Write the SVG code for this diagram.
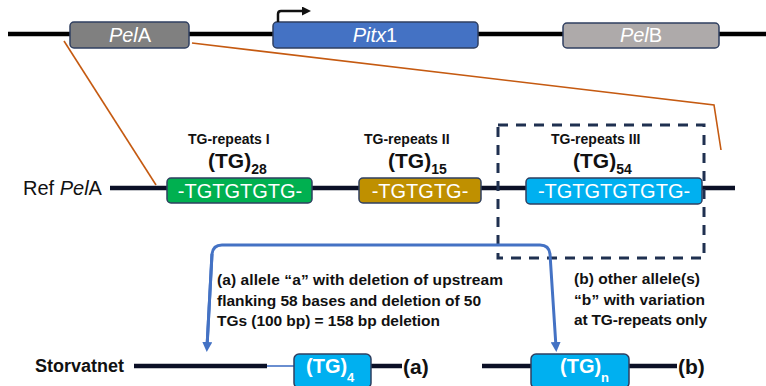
<svg xmlns="http://www.w3.org/2000/svg" width="766" height="386" viewBox="0 0 766 386">
<defs>
<style>
text{font-family:"Liberation Sans",Arial,sans-serif}
.box{stroke:#2F3F60;stroke-width:1.5}
.wt{fill:#fff}
.lbl{font-size:14px;font-weight:bold;fill:#111}
.tg{font-size:21px;font-weight:bold;fill:#111}
.para{font-size:15.5px;font-weight:bold;fill:#111}
.seq{font-size:20px;fill:#fff}
.dna{stroke:#0b1026;stroke-width:4.5;fill:none}
.orange{stroke:#C55A11;stroke-width:1.6;fill:none}
</style>
<marker id="blueArrow" markerWidth="10" markerHeight="10" refX="5" refY="5" orient="auto" markerUnits="userSpaceOnUse" viewBox="0 0 10 10">
<path d="M0,0 L10,5 L0,10 z" fill="#4472C4"/>
</marker>
<marker id="blackArrow" markerWidth="9" markerHeight="9" refX="4" refY="4.5" orient="auto" markerUnits="userSpaceOnUse" viewBox="0 0 9 9">
<path d="M0,0 L9,4.5 L0,9 z" fill="#111"/>
</marker>
</defs>

<!-- backbone lines -->
<g id="dna-lines">
<line x1="8" y1="34" x2="766" y2="34" stroke="#000" stroke-width="4.5"/>
<line class="dna" x1="110" y1="188" x2="735" y2="188"/>
<line class="dna" x1="134" y1="366" x2="267" y2="366" stroke-width="5.5"/>
<line x1="267" y1="366" x2="295" y2="366" stroke="#4472C4" stroke-width="1.6"/>
<line class="dna" x1="371" y1="366" x2="402" y2="366" stroke-width="5.5"/>
<line class="dna" x1="482" y1="366" x2="531" y2="366" stroke-width="5.5"/>
<line class="dna" x1="629" y1="366" x2="677" y2="366" stroke-width="5.5"/>
</g>

<!-- top genes -->
<g id="PelA">
<rect class="box" x="70" y="22" width="119" height="26" rx="4" fill="#808080"/>
<text x="130" y="42" text-anchor="middle" font-size="20" class="wt"><tspan font-style="italic">Pel</tspan>A</text>
</g>
<g id="Pitx1">
<rect class="box" x="273" y="22" width="205" height="26" rx="4" fill="#4472C4"/>
<text x="375" y="42" text-anchor="middle" font-size="20" class="wt"><tspan font-style="italic">Pitx</tspan>1</text>
</g>
<g id="PelB">
<rect class="box" x="563" y="23" width="156" height="25" rx="4" fill="#AEAAAA"/>
<text x="641" y="42" text-anchor="middle" font-size="20" class="wt"><tspan font-style="italic">Pel</tspan>B</text>
</g>

<!-- connectors -->
<g id="connectors">
<path d="M278,22 V14 Q278,11 281,11 H306" stroke="#111" stroke-width="2.5" fill="none" marker-end="url(#blackArrow)"/>
<line class="orange" x1="64" y1="41" x2="156" y2="185"/>
<polyline class="orange" points="192,43 714,105 721,150"/>
<rect x="498" y="125" width="206" height="133" fill="none" stroke="#1F3050" stroke-width="3" stroke-dasharray="10,8"/>
<path d="M207,347 L212,254 Q213,245 222,245 L540,245 Q549,245 550,254 L556,347" stroke="#4472C4" stroke-width="3" fill="none" marker-end="url(#blueArrow)"/>
<path d="M212,254 L207,347" stroke="#4472C4" stroke-width="3" fill="none" marker-end="url(#blueArrow)"/>
</g>

<!-- Ref PelA -->
<g id="ref-label">
<text x="23" y="195" font-size="20" fill="#111">Ref <tspan font-style="italic">Pel</tspan>A</text>
</g>

<g id="repeat1">
<text class="lbl" x="188" y="144">TG-repeats I</text>
<text class="tg" x="208" y="168">(TG)<tspan font-size="14" dy="6">28</tspan></text>
<rect class="box" x="167" y="178" width="145" height="25" rx="4" fill="#00B050"/>
<text class="seq" x="240" y="198" text-anchor="middle">-TGTGTGTG-</text>
</g>

<g id="repeat2">
<text class="lbl" x="364" y="144">TG-repeats II</text>
<text class="tg" x="388" y="168">(TG)<tspan font-size="14" dy="6">15</tspan></text>
<rect class="box" x="359" y="178" width="122" height="25" rx="4" fill="#BF9000"/>
<text class="seq" x="420" y="198" text-anchor="middle">-TGTGTG-</text>
</g>

<g id="repeat3">
<text class="lbl" x="551" y="144">TG-repeats III</text>
<text class="tg" x="573" y="168">(TG)<tspan font-size="14" dy="6">54</tspan></text>
<rect class="box" x="526" y="178" width="176" height="26" rx="4" fill="#00B0F0"/>
<text class="seq" x="614" y="198" text-anchor="middle">-TGTGTGTGTG-</text>
</g>

<g id="text-a">
<text class="para" x="217" y="285" textLength="286" lengthAdjust="spacing">(a) allele “a” with deletion of upstream</text>
<text class="para" x="217" y="306" textLength="264" lengthAdjust="spacing">flanking 58 bases and deletion of 50</text>
<text class="para" x="217" y="326" textLength="223" lengthAdjust="spacing">TGs (100 bp) = 158 bp deletion</text>
</g>

<g id="text-b">
<text class="para" x="574" y="284" textLength="126" lengthAdjust="spacing">(b) other allele(s)</text>
<text class="para" x="574" y="305" textLength="131" lengthAdjust="spacing">“b” with variation</text>
<text class="para" x="574" y="325" textLength="133" lengthAdjust="spacing">at TG-repeats only</text>
</g>

<g id="storvatnet">
<text x="35" y="372" font-size="18" font-weight="bold" fill="#111">Storvatnet</text>
</g>

<g id="alleleA">
<rect class="box" x="294" y="354" width="77" height="34" rx="5" fill="#00B0F0"/>
<text x="306" y="373" font-size="20" font-weight="bold" class="wt">(TG)<tspan font-size="13" dy="9">4</tspan></text>
<text x="403" y="374" font-size="21" font-weight="bold" fill="#111">(a)</text>
</g>

<g id="alleleB">
<rect class="box" x="531" y="354" width="98" height="34" rx="5" fill="#00B0F0"/>
<text x="560" y="373" font-size="20" font-weight="bold" class="wt">(TG)<tspan font-size="13" dy="9">n</tspan></text>
<text x="678" y="374" font-size="21" font-weight="bold" fill="#111">(b)</text>
</g>
</svg>
